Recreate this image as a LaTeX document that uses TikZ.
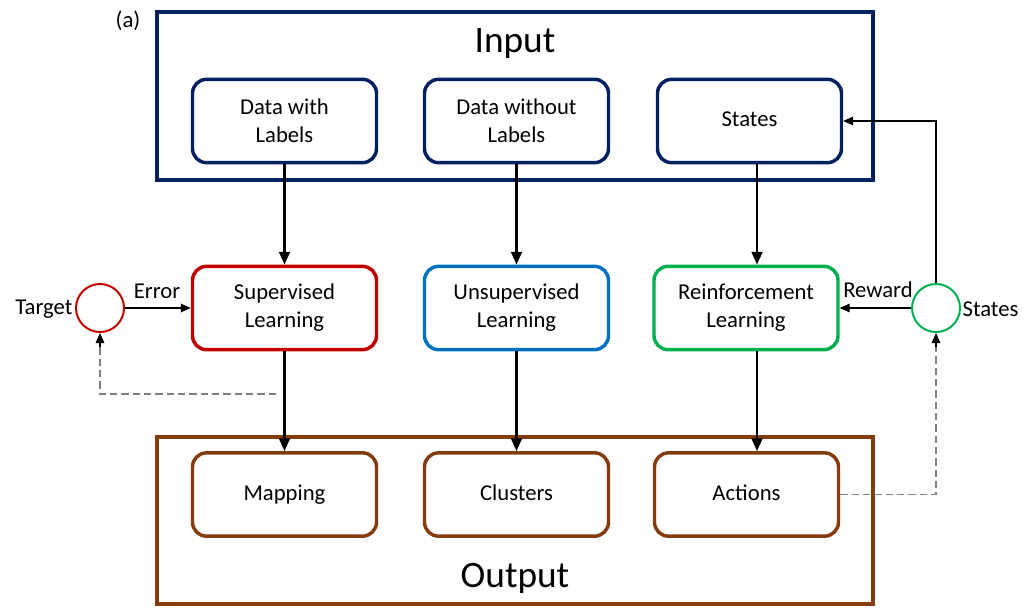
\documentclass[tikz,border=0pt]{standalone}
\usepackage{fontspec}
\setmainfont{Carlito}
\usetikzlibrary{arrows.meta,calc}
\definecolor{navy}{RGB}{0,32,96}
\definecolor{supred}{RGB}{192,0,0}
\definecolor{unsblue}{RGB}{0,112,192}
\definecolor{rlgreen}{RGB}{0,176,80}
\definecolor{outbrown}{RGB}{132,60,12}
\definecolor{dashgray}{RGB}{127,127,127}
\begin{document}
\begin{tikzpicture}[x=0.75pt,y=-0.75pt,
  every node/.style={font=\fontsize{17}{21}\selectfont},
  inbox/.style={draw, rounded corners=10.5pt, line width=2.6pt, minimum width=138pt, minimum height=62.5pt, align=center, fill=white, inner sep=0pt},
  bigbox/.style={draw, line width=3pt},
  ring/.style={draw, circle, line width=1.5pt, minimum size=36pt, inner sep=0pt, fill=white},
  thickarrow/.style={line width=1.9pt, -{Triangle[width=8pt,length=9.5pt]}},
  thinarrow/.style={line width=0.8pt, -{Triangle[width=6.5pt,length=7.5pt]}},
  dashline/.style={line width=1.1pt, draw=dashgray, dash pattern=on 5.5pt off 3pt},
  lbl/.style={inner sep=1pt}
]
\useasboundingbox (0,0) rectangle (1023,608);
% big boxes
\draw[bigbox, draw=navy] (157,12) rectangle (873,180);
\draw[bigbox, draw=outbrown] (157,437) rectangle (873,604);
\node[font=\fontsize{28}{32}\selectfont] (intitle) at (515,44) {Input};
\node[font=\fontsize{28}{32}\selectfont] (outtitle) at (515,578) {Output};
\node[lbl] (tag) at (128,21) {(a)};
% input row
\node[inbox, draw=navy] (dwl) at (284.5,121) {Data with\\Labels};
\node[inbox, draw=navy] (dwol) at (516.5,121) {Data without\\Labels};
\node[inbox, draw=navy] (stt) at (749.5,121) {\strut States};
% learning row
\node[inbox, draw=supred] (sl) at (284.5,308) {Supervised\\Learning};
\node[inbox, draw=unsblue] (ul) at (516.5,308) {Unsupervised\\Learning};
\node[inbox, draw=rlgreen] (rl) at (746,308) {Reinforcement\\Learning};
% output row
\node[inbox, draw=outbrown] (map) at (284.5,494.5) {\strut Mapping};
\node[inbox, draw=outbrown] (clu) at (516.5,494.5) {\strut Clusters};
\node[inbox, draw=outbrown] (act) at (746.5,494.5) {\strut Actions};
% circles
\node[ring, draw=supred] (tgt) at (100,308) {};
\node[ring, draw=rlgreen] (stc) at (936,308) {};
\node[lbl, anchor=east] (tgtl) at (74,309) {Target};
\node[lbl, anchor=west] (stcl) at (961,309) {States};
\node[lbl] (errl) at (157,291) {Error};
\node[lbl] (rewl) at (878,290) {Reward};
% vertical arrows
\coordinate (c1) at (284.5,0);
\coordinate (c2) at (516.5,0);
\coordinate (c3) at (757,0);
\draw[thickarrow] (c1 |- dwl.south) -- (c1 |- sl.north);
\draw[thickarrow] (c2 |- dwol.south) -- (c2 |- ul.north);
\draw[thickarrow] (c3 |- stt.south) -- (c3 |- rl.north);
\draw[thickarrow] (c1 |- sl.south) -- (c1 |- map.north);
\draw[thickarrow] (c2 |- ul.south) -- (c2 |- clu.north);
\draw[thickarrow] (c3 |- rl.south) -- (c3 |- act.north);
% feedback
\draw[thinarrow] (tgt.east) -- (sl.west);
\draw[thinarrow] (stc.west) -- (rl.east);
\draw[thinarrow] (stc.north) |- (stt.east);
\coordinate (dstart) at (276,394);
\coordinate (tgtd) at ($(tgt.south)+(0,14)$);
\coordinate (stcd) at ($(stc.south)+(0,14)$);
\draw[dashline] (dstart) -| (tgtd);
\draw[thinarrow] (tgtd) -- (tgt.south);
\draw[dashline] (act.east) -| (stcd);
\draw[thinarrow] (stcd) -- (stc.south);
\end{tikzpicture}
\end{document}
